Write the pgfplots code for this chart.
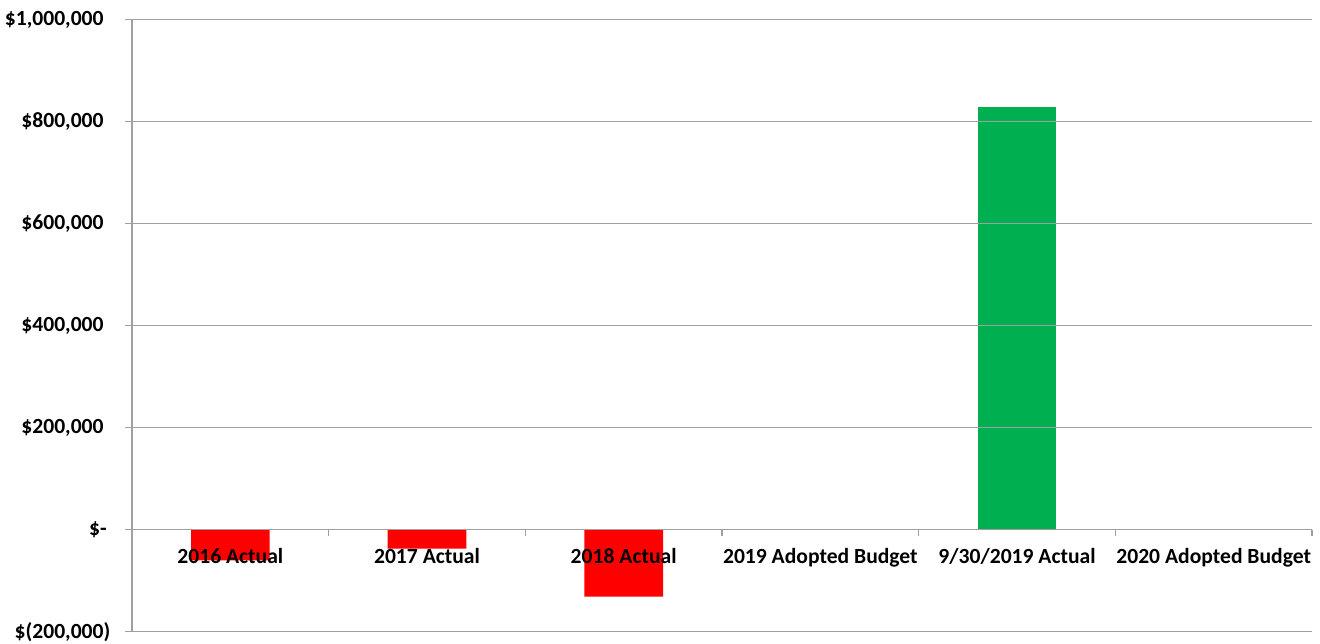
\documentclass[border=0pt]{standalone}
\usepackage{pgfplots}
\pgfplotsset{compat=1.18}
\usepackage{fontspec}
\setmainfont{Carlito}
\definecolor{gridgray}{HTML}{A0A0A0}
\definecolor{barred}{HTML}{FF0000}
\definecolor{bargreen}{HTML}{00B050}
\pgfplotsset{
  layers/barsbelowlabels/.define layer set={
    axis background,axis grid,bars,axis ticks,axis lines,axis tick labels,pre main,main,axis descriptions,axis foreground
  }{},
}
\begin{document}
\begin{tikzpicture}
\begin{axis}[
  name=ax,
  set layers=barsbelowlabels,
  scale only axis,
  width=590pt, height=306pt,
  xmin=-0.5, xmax=5.5,
  ymin=-200000, ymax=1000000,
  scaled y ticks=false,
  axis x line*=middle,
  axis y line*=left,
  axis line style={gridgray, line width=0.6pt},
  xtick={0,1,2,3,4,5},
  xticklabels={2016 Actual,2017 Actual,2018 Actual,2019 Adopted Budget,9/30/2019 Actual,2020 Adopted Budget},
  minor xtick={0.5,1.5,2.5,3.5,4.5,5.5},
  ytick={-200000,0,200000,400000,600000,800000,1000000},
  yticklabels={\$(200{,}000),\$-\hphantom{\,},\$200{,}000\hphantom{)},\$400{,}000\hphantom{)},\$600{,}000\hphantom{)},\$800{,}000\hphantom{)},\$1{,}000{,}000\hphantom{)}},
  ymajorgrids,
  major grid style={gridgray, line width=0.6pt},
  tick align=outside,
  x tick style={draw=none},
  minor x tick style={draw=gridgray, line width=0.6pt},
  minor tick length=3pt,
  y tick style={gridgray, line width=0.6pt},
  major tick length=3.5pt,
  tick label style={font=\fontsize{10.8}{12}\selectfont\bfseries},
  xticklabel style={yshift=-2.5pt},
  yticklabel style={xshift=-3.8pt},
  bar width=0.4,
  clip=false,
]
\addplot[ybar, bar shift=0pt, fill=barred, draw=none, on layer=bars] coordinates {(0,-60000) (1,-37000) (2,-131000)};
\addplot[ybar, bar shift=0pt, fill=bargreen, draw=none, on layer=bars] coordinates {(4,829000)};
\end{axis}
\pgfresetboundingbox
\path[use as bounding box] (ax.south west) ++(-66pt,-5.65pt) rectangle ++(660pt,321.5pt);
\end{tikzpicture}
\end{document}
